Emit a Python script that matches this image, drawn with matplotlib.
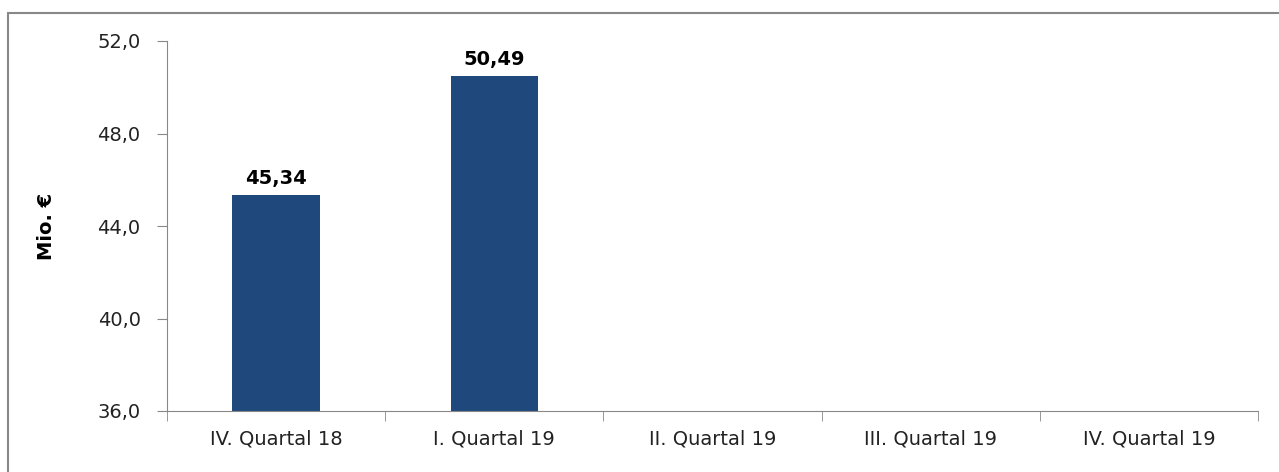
import matplotlib
matplotlib.use("Agg")
import matplotlib.pyplot as plt
from matplotlib.patches import Rectangle

categories = ["IV. Quartal 18", "I. Quartal 19", "II. Quartal 19", "III. Quartal 19", "IV. Quartal 19"]
values = [45.34, 50.49, None, None, None]
yticks = [36.0, 40.0, 44.0, 48.0, 52.0]

plt.rcParams['font.family'] = ['DejaVu Sans']

fig = plt.figure(figsize=(12.79, 4.72), dpi=100)
ax = fig.add_axes([167/1279, 61/472, (1258-167)/1279, (411-41)/472])

xs = [i for i, v in enumerate(values) if v is not None]
vs = [v for v in values if v is not None]
ax.bar(xs, vs, width=0.4, color="#1F497D", bottom=0)
for x, v in zip(xs, vs):
    ax.text(x, v + 0.3, f"{v:.2f}".replace(".", ","), ha="center", va="bottom",
            fontsize=14, fontweight="bold", color="black")

ax.set_xlim(-0.5, len(categories) - 0.5)
ax.set_ylim(36, 52)
ax.set_yticks(yticks)
ax.set_yticklabels([f"{t:.1f}".replace(".", ",") for t in yticks], fontsize=14, color="#222222")
ax.set_xticks(range(len(categories)))
ax.set_xticklabels(categories, fontsize=14, color="#222222")
ax.tick_params(axis="x", length=0, pad=13)
ax.set_xticks([i - 0.5 for i in range(len(categories) + 1)], minor=True)
ax.tick_params(axis="x", which="minor", length=7, color="#888888")
ax.tick_params(axis="y", length=7, color="#888888", pad=12)
for s in ["top", "right"]:
    ax.spines[s].set_visible(False)
for s in ["left", "bottom"]:
    ax.spines[s].set_color("#888888")
ax.set_ylabel("Mio. €", fontsize=14, fontweight="bold", labelpad=30)

fig.patches.append(Rectangle((8/1279, -0.1), 1.2, (472-13)/472 + 0.1, transform=fig.transFigure,
                             fill=False, edgecolor="#888888", linewidth=1.5))
fig.savefig("out.png", dpi=100)
